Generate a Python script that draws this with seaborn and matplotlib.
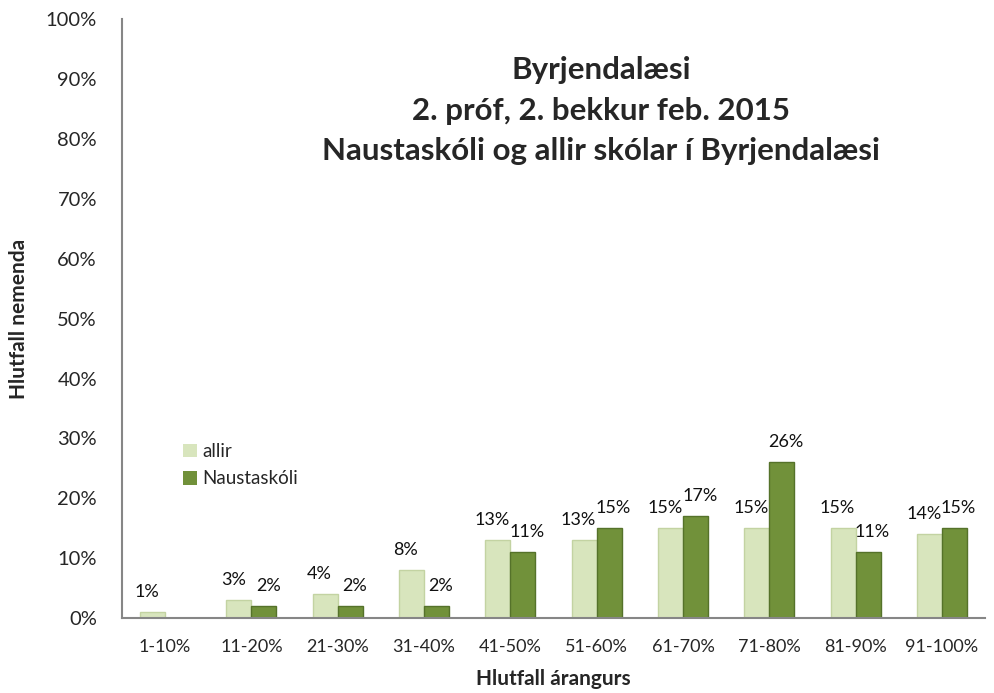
import pandas as pd
import numpy as np
import matplotlib
matplotlib.use("Agg")
import matplotlib.pyplot as plt
import seaborn as sns
from matplotlib.ticker import FuncFormatter

# ============ DATA =============
categories = ["1-10%", "11-20%", "21-30%", "31-40%", "41-50%",
              "51-60%", "61-70%", "71-80%", "81-90%", "91-100%"]
allir = [1, 3, 4, 8, 13, 13, 15, 15, 15, 14]
naustaskoli = [0, 2, 2, 2, 11, 15, 17, 26, 11, 15]
series_names = ["allir", "Naustaskóli"]
colors = ["#d8e5bd", "#71913a"]
title_lines = ["Byrjendalæsi",
               "2. próf, 2. bekkur feb. 2015",
               "Naustaskóli og allir skólar í Byrjendalæsi"]
# ===============================

df = pd.DataFrame({
    "Flokkur": categories * 2,
    "Hlutfall": allir + naustaskoli,
    "Hópur": [series_names[0]] * len(categories) + [series_names[1]] * len(categories),
})

sns.set_style("white")
plt.rcParams["font.family"] = ["Lato", "DejaVu Sans"]

fig = plt.figure(figsize=(9.95, 6.93), dpi=100)
ax = fig.add_axes([0.1226, 0.108, 0.8674, 0.8645])

sns.barplot(data=df, x="Flokkur", y="Hlutfall", hue="Hópur",
            palette=colors, width=0.58, gap=0, saturation=1,
            errorbar=None, ax=ax, edgecolor="none")

# darker bar edges, like the bevelled bars in the original
# labels nudged sideways (allir left, Naustaskóli right) as in the original
for cont, ec, dx in zip(ax.containers, ["#c3d3a2", "#55722a"], [-4, 3]):
    for bar in cont:
        bar.set_edgecolor(ec)
        bar.set_linewidth(1.0)
    anns = ax.bar_label(cont, fmt=lambda v: f"{v:.0f}%" if v > 0 else "",
                        padding=9, fontsize=13, color="#111111")
    for a in anns:
        a.xyann = (dx, a.xyann[1])

ax.set_ylim(0, 100)
ax.set_xlim(-0.5, len(categories) - 0.5)
ax.set_yticks(range(0, 101, 10))
ax.yaxis.set_major_formatter(FuncFormatter(lambda v, p: f"{v:.0f}%"))

# category separators on the x axis
ax.set_xticks(np.arange(-0.5, len(categories), 1.0), minor=True)
ax.tick_params(axis="x", which="major", length=0, labelsize=13, pad=15)
ax.tick_params(axis="x", which="minor", length=6, width=1.2, color="#868686", direction="out")
ax.tick_params(axis="y", length=6, width=1.2, color="#868686", direction="out",
               labelsize=14.5, pad=12)

for side in ["top", "right"]:
    ax.spines[side].set_visible(False)
for side in ["left", "bottom"]:
    ax.spines[side].set_color("#868686")
    ax.spines[side].set_linewidth(1.5)

ax.set_xlabel("Hlutfall árangurs", fontsize=15, fontweight="bold", labelpad=10)
ax.set_ylabel("Hlutfall nemenda", fontsize=15, fontweight="bold", labelpad=12)

for i, line in enumerate(title_lines):
    fig.text(0.604, 0.899 - i * 0.0585, line, ha="center", va="center",
             fontsize=22.5, fontweight="bold")

leg = ax.legend(loc="upper left", bbox_to_anchor=(0.062, 0.305), frameon=False,
                fontsize=13.5, handlelength=0.75, handleheight=0.75,
                handletextpad=0.3, labelspacing=0.55, borderaxespad=0)
leg.set_title(None)

fig.savefig("out.png", dpi=100)
